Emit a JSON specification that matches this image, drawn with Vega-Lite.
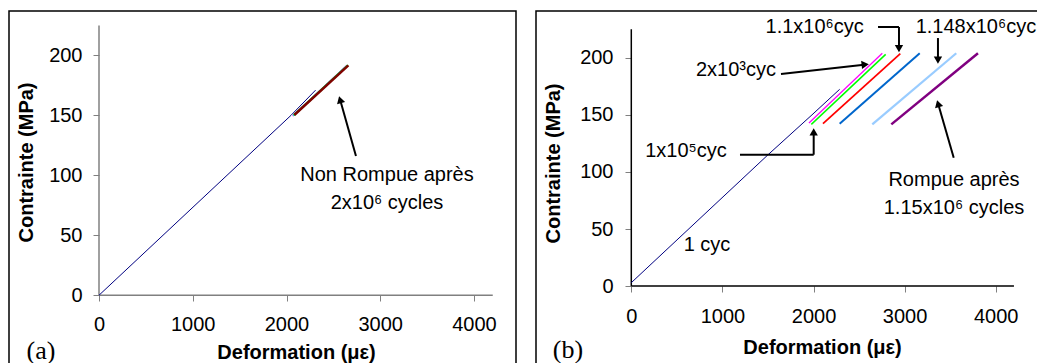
{
  "$schema": "https://vega.github.io/schema/vega-lite/v6.json",
  "background": "white",
  "padding": {"left": 8, "top": 10, "right": 0, "bottom": 0},
  "spacing": 18,
  "resolve": {"scale": {"color": "independent", "strokeWidth": "independent"}},
  "config": {
    "view": {"stroke": "#000000", "strokeWidth": 1.5},
    "axis": {"grid": false, "domain": false, "tickSize": 6, "tickColor": "#808080", "labelFont": "Liberation Sans", "labelFontSize": 20, "labelColor": "#000000", "titleFont": "Liberation Sans", "titleFontSize": 20, "titleFontWeight": "bold", "titleColor": "#000000", "titleAlign": "center", "titleBaseline": "middle", "labelFlush": false, "labelOverlap": false},
    "text": {"font": "Liberation Sans", "fontSize": 20, "align": "center", "baseline": "middle", "color": "#000000"}
  },
  "datasets": {
    "axes_a": [{"x": 0, "y": 0, "x2": 4200, "y2": 0}, {"x": 0, "y": 0, "x2": 0, "y2": 225}],
    "curves_a": [
      {"series": "1 cyc", "x": 0, "y": 0}, {"series": "1 cyc", "x": 2048, "y": 150}, {"series": "1 cyc", "x": 2310, "y": 171},
      {"series": "c1", "x": 2066, "y": 149.5}, {"series": "c1", "x": 2645, "y": 191.7},
      {"series": "c2", "x": 2072, "y": 149.8}, {"series": "c2", "x": 2650, "y": 191.7},
      {"series": "c3", "x": 2078, "y": 150}, {"series": "c3", "x": 2655, "y": 191.7},
      {"series": "c4", "x": 2083, "y": 150.3}, {"series": "c4", "x": 2660, "y": 191.7}
    ],
    "arrows_a": [{"x": 2741, "y": 116.1, "x2": 2575, "y2": 162.1}],
    "heads_a": [{"x": 2575, "y": 162.1}],
    "text_a": [{"x": 3072, "y": 100.2, "t": "Non Rompue après"}, {"x": 3072, "y": 76.9, "t": "2x10⁶ cycles"}],
    "label_a": [{"x": -619, "y": -46.5, "t": "(a)"}],
    "axes_b": [{"x": 0, "y": 0, "x2": 4200, "y2": 0}, {"x": 0, "y": 0, "x2": 0, "y2": 225}],
    "curves_b": [
      {"series": "1 cyc", "x": 0, "y": 3}, {"series": "1 cyc", "x": 1500, "y": 115}, {"series": "1 cyc", "x": 1983, "y": 150}, {"series": "1 cyc", "x": 2287, "y": 172.4},
      {"series": "2x10^3", "x": 1950, "y": 142.9}, {"series": "2x10^3", "x": 2755, "y": 204},
      {"series": "1x10^5", "x": 1976, "y": 141.7}, {"series": "1x10^5", "x": 2792, "y": 203},
      {"series": "1.1x10^6", "x": 2104, "y": 142.3}, {"series": "1.1x10^6", "x": 2953, "y": 203.6},
      {"series": "1.12x10^6", "x": 2287, "y": 142.3}, {"series": "1.12x10^6", "x": 3166, "y": 204},
      {"series": "1.148x10^6", "x": 2645, "y": 141.7}, {"series": "1.148x10^6", "x": 3567, "y": 204},
      {"series": "1.15x10^6", "x": 2854, "y": 141.7}, {"series": "1.15x10^6", "x": 3805, "y": 204}
    ],
    "arrows_b": [
      {"x": 2708, "y": 227, "x2": 2938, "y2": 227}, {"x": 2938, "y": 227, "x2": 2938, "y2": 208},
      {"x": 3366, "y": 217.3, "x2": 3366, "y2": 198},
      {"x": 1643, "y": 185.8, "x2": 2554, "y2": 194},
      {"x": 1193, "y": 115.1, "x2": 2002, "y2": 115.1}, {"x": 2002, "y": 115.1, "x2": 2002, "y2": 135},
      {"x": 3539, "y": 112.5, "x2": 3371, "y2": 158.8}
    ],
    "heads_down_b": [{"x": 2938, "y": 208}, {"x": 3366, "y": 198}],
    "heads_up_b": [{"x": 2002, "y": 135}],
    "heads_right_b": [{"x": 2554, "y": 194}],
    "heads_ul_b": [{"x": 3371, "y": 158.8}],
    "text_b": [
      {"x": 2013, "y": 227, "t": "1.1x10⁶cyc"},
      {"x": 3783, "y": 227, "t": "1.148x10⁶cyc"},
      {"x": 1149, "y": 189.3, "t": "2x10³cyc"},
      {"x": 600, "y": 118.4, "t": "1x10⁵cyc"},
      {"x": 3542, "y": 92.9, "t": "Rompue après"},
      {"x": 3542, "y": 68.4, "t": "1.15x10⁶ cycles"},
      {"x": 831, "y": 36, "t": "1 cyc"}
    ],
    "label_b": [{"x": -695, "y": -56, "t": "(b)"}]
  },
  "hconcat": [
    {
      "width": 507,
      "height": 355,
      "encoding": {
        "x": {"field": "x", "type": "quantitative", "scale": {"domain": [-960, 4448], "nice": false, "zero": false}, "axis": {"title": "Deformation (με)", "values": [0, 1000, 2000, 3000, 4000], "format": "d", "offset": -71, "labelPadding": 13, "titleX": 287, "titleY": 57}},
        "y": {"field": "y", "type": "quantitative", "scale": {"domain": [-59, 237], "nice": false, "zero": false}, "axis": {"title": "Contrainte (MPa)", "values": [0, 50, 100, 150, 200], "format": "d", "offset": -90, "labelPadding": 11, "titleX": -73, "titleY": 151, "titleAngle": 270}}
      },
      "layer": [
        {"data": {"name": "axes_a"}, "mark": {"type": "rule", "color": "#808080", "strokeWidth": 1.5}, "encoding": {"x2": {"field": "x2"}, "y2": {"field": "y2"}}},
        {"data": {"name": "curves_a"}, "mark": {"type": "line"}, "encoding": {
          "color": {"field": "series", "type": "nominal", "scale": {"domain": ["1 cyc", "c1", "c2", "c3", "c4"], "range": ["#000080", "#ff00ff", "#00ffff", "#00ff00", "#800000"]}, "legend": null},
          "strokeWidth": {"field": "series", "type": "ordinal", "scale": {"domain": ["1 cyc", "c1", "c2", "c3", "c4"], "range": [1, 2.5, 2.5, 2.5, 3.5]}, "legend": null}}},
        {"data": {"name": "arrows_a"}, "mark": {"type": "rule", "color": "#000000", "strokeWidth": 2}, "encoding": {"x2": {"field": "x2"}, "y2": {"field": "y2"}}},
        {"data": {"name": "heads_a"}, "mark": {"type": "point", "shape": "triangle", "angle": 344, "size": 70, "filled": true, "color": "#000000", "opacity": 1}},
        {"data": {"name": "text_a"}, "mark": {"type": "text"}, "encoding": {"text": {"field": "t"}}},
        {"data": {"name": "label_a"}, "mark": {"type": "text", "font": "Liberation Serif", "fontSize": 26}, "encoding": {"text": {"field": "t"}}}
      ]
    },
    {
      "width": 503,
      "height": 355,
      "encoding": {
        "x": {"field": "x", "type": "quantitative", "scale": {"domain": [-1046, 4475], "nice": false, "zero": false}, "axis": {"title": "Deformation (με)", "values": [0, 1000, 2000, 3000, 4000], "format": "d", "offset": -80, "labelPadding": 14, "titleX": 286, "titleY": 61}},
        "y": {"field": "y", "type": "quantitative", "scale": {"domain": [-70, 241], "nice": false, "zero": false}, "axis": {"title": "Contrainte (MPa)", "values": [0, 50, 100, 150, 200], "format": "d", "offset": -95, "labelPadding": 12, "titleX": -78, "titleY": 152, "titleAngle": 270}}
      },
      "layer": [
        {"data": {"name": "axes_b"}, "mark": {"type": "rule", "color": "#000000", "strokeWidth": 1.5}, "encoding": {"x2": {"field": "x2"}, "y2": {"field": "y2"}}},
        {"data": {"name": "curves_b"}, "mark": {"type": "line"}, "encoding": {
          "color": {"field": "series", "type": "nominal", "scale": {"domain": ["1 cyc", "2x10^3", "1x10^5", "1.1x10^6", "1.12x10^6", "1.148x10^6", "1.15x10^6"], "range": ["#000080", "#ff00ff", "#00ff00", "#ff0000", "#0066cc", "#99ccff", "#800080"]}, "legend": null},
          "strokeWidth": {"field": "series", "type": "ordinal", "scale": {"domain": ["1 cyc", "2x10^3", "1x10^5", "1.1x10^6", "1.12x10^6", "1.148x10^6", "1.15x10^6"], "range": [1, 2.5, 3.5, 2.5, 2.5, 2.5, 2.5]}, "legend": null}}},
        {"data": {"name": "arrows_b"}, "mark": {"type": "rule", "color": "#000000", "strokeWidth": 2}, "encoding": {"x2": {"field": "x2"}, "y2": {"field": "y2"}}},
        {"data": {"name": "heads_down_b"}, "mark": {"type": "point", "shape": "triangle-down", "size": 70, "filled": true, "color": "#000000", "opacity": 1}},
        {"data": {"name": "heads_up_b"}, "mark": {"type": "point", "shape": "triangle-up", "size": 70, "filled": true, "color": "#000000", "opacity": 1}},
        {"data": {"name": "heads_right_b"}, "mark": {"type": "point", "shape": "triangle", "angle": 84, "size": 70, "filled": true, "color": "#000000", "opacity": 1}},
        {"data": {"name": "heads_ul_b"}, "mark": {"type": "point", "shape": "triangle", "angle": 344, "size": 70, "filled": true, "color": "#000000", "opacity": 1}},
        {"data": {"name": "text_b"}, "mark": {"type": "text"}, "encoding": {"text": {"field": "t"}}},
        {"data": {"name": "label_b"}, "mark": {"type": "text", "font": "Liberation Serif", "fontSize": 26}, "encoding": {"text": {"field": "t"}}}
      ]
    }
  ]
}
